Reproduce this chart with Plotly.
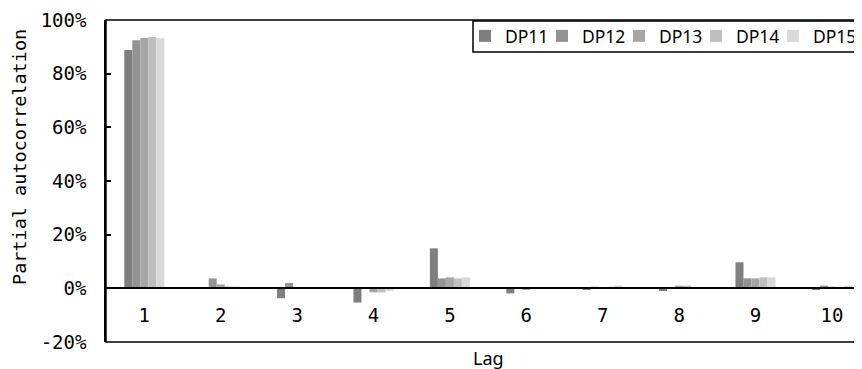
import plotly.graph_objects as go

lags = [1, 2, 3, 4, 5, 6, 7, 8, 9, 10]
lag_labels = ["1", "2", "3", "4", "5", "6", "7", "8", "9", "10"]
series_names = ["DP11", "DP12", "DP13", "DP14", "DP15"]
dp11 = [88.8, 0.1, -3.7, -5.3, 14.9, -1.9, -0.3, -1.0, 9.7, -0.3]
dp12 = [92.5, 3.7, 2.0, -0.1, 3.7, 0.4, 0.6, 0.2, 3.7, 1.0]
dp13 = [93.3, 1.5, 0.3, -1.5, 4.1, -0.3, 0.2, 1.0, 3.7, 0.6]
dp14 = [93.7, 0.7, 0.1, -1.5, 3.7, 0.1, 0.6, 1.0, 4.1, 0.1]
dp15 = [93.2, 0.7, 0.3, -1.0, 4.1, 0.1, 1.0, 0.1, 4.1, 1.0]
series_values = [dp11, dp12, dp13, dp14, dp15]
colors = ["#7f7f7f", "#939393", "#a6a6a6", "#bfbfbf", "#d9d9d9"]
y_tickvals = [-20, 0, 20, 40, 60, 80, 100]
y_ticktext = ["-20%", "0%", "20%", "40%", "60%", "80%", "100%"]

# page has an 8px body margin, so the figure is drawn 8px in from the corner
OFF = 8
W, H = 862 - OFF, 369 - OFF
L, T, B = 106 - OFF, 20 - OFF, 27
plot_w = W - L
plot_h = H - T - B
spacing = 76.4
c1 = 144.3 - OFF
x_lo = 1 - (c1 - L) / spacing
x_hi = x_lo + plot_w / spacing

def px_x(px):
    return (px - OFF - L) / plot_w

def px_y(py):
    return (H - B - (py - OFF)) / plot_h

mono = "DejaVu Sans Mono"
sans = "Noto Sans"

fig = go.Figure()
for name, vals, col in zip(series_names, series_values, colors):
    fig.add_trace(go.Bar(x=lags, y=vals, name=name, marker_color=col,
                         marker_line_width=0))
# empty legend spacer (no marks) so the last legend label is not clipped
fig.add_trace(go.Scatter(x=[None], y=[None], name=" ", mode="markers",
                         showlegend=True, hoverinfo="skip",
                         marker=dict(color="rgba(0,0,0,0)")))

fig.update_layout(
    width=W, height=H,
    margin=dict(l=L, r=0, t=T, b=B, autoexpand=False),
    paper_bgcolor="white", plot_bgcolor="white",
    barmode="group", bargap=0.476, bargroupgap=0,
    showlegend=True,
    legend=dict(orientation="h", x=px_x(465), y=px_y(36), xanchor="left",
                yanchor="middle", borderwidth=0,
                bgcolor="rgba(0,0,0,0)",
                font=dict(family=sans, size=17.5, color="black"),
                entrywidth=32, itemwidth=30),
    xaxis=dict(range=[x_lo, x_hi], tickvals=lags, ticktext=lag_labels,
               anchor="free", position=20 / 120, showline=True,
               linecolor="black", linewidth=2, ticks="", showgrid=False,
               zeroline=False, ticklabelstandoff=10,
               tickfont=dict(family=mono, size=19, color="black")),
    yaxis=dict(range=[-20, 100], tickvals=y_tickvals, ticktext=y_ticktext,
               showline=True, linecolor="black", linewidth=1.5,
               ticks="inside", ticklen=5, tickwidth=1.5, tickcolor="black",
               showgrid=False, zeroline=False, ticklabelstandoff=14,
               tickfont=dict(family=mono, size=19, color="black")),
    shapes=[
        dict(type="rect", xref="paper", yref="paper", x0=0, x1=1.05,
             y0=0, y1=1, line=dict(color="black", width=1.5),
             fillcolor="rgba(0,0,0,0)", layer="above"),
        dict(type="rect", xref="paper", yref="paper", x0=px_x(473),
             x1=1.05, y0=px_y(52), y1=px_y(21),
             line=dict(color="black", width=1.5), fillcolor="white",
             layer="above"),
    ],
    annotations=[
        dict(text="Partial autocorrelation", textangle=-90, xref="paper",
             yref="paper", x=px_x(19), y=px_y(157), xanchor="center",
             yanchor="middle", showarrow=False,
             font=dict(family=mono, size=18.5, color="black")),
        dict(text="Lag", xref="paper", yref="paper", x=px_x(488),
             y=px_y(358), xanchor="center", yanchor="middle",
             showarrow=False, font=dict(family=sans, size=18, color="black")),
    ],
)

fig.write_html("out.html")
